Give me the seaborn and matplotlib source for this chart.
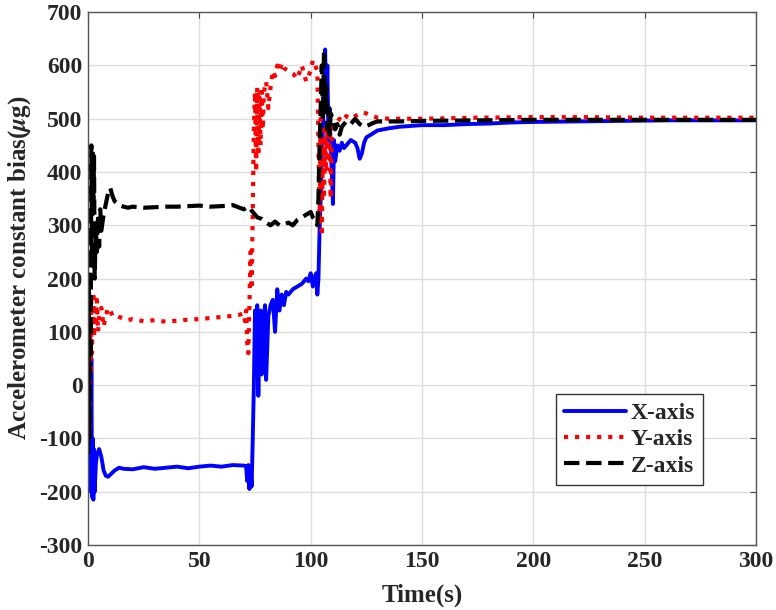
import numpy as np
import pandas as pd
import matplotlib
matplotlib.use('Agg')
import matplotlib.pyplot as plt
import seaborn as sns

# X-axis bias (blue)
bx_t = [
    0, 0.3, 0.6, 0.9, 1.2, 1.5, 1.8, 2.1, 2.4, 2.7,
    3.0, 3.5, 4, 5, 6, 7, 8, 9, 10, 12,
    14, 16, 20, 25, 30, 35, 40, 45, 50, 55,
    60, 65, 70, 71, 71.5, 72, 72.5, 73, 73.5, 74,
    74.5, 75, 75.5, 76, 76.5, 77, 77.5, 78, 78.5, 79,
    79.5, 80, 81, 82, 83, 84, 85, 86, 87, 88,
    89, 90, 92, 94, 96, 98, 99, 100, 101, 102,
    102.5, 103, 103.5, 104, 104.5, 105, 105.5, 106, 106.5, 107,
    107.5, 108, 108.5, 109, 109.5, 110, 110.5, 111, 112, 113,
    114, 115, 116, 118, 120, 121, 122, 123, 124, 125,
    127, 130, 135, 140, 150, 160, 170, 180, 190, 200,
    220, 240, 260, 280, 300]
bx_v = [
    0, 120, -50, 80, -200, 50, -210, -100, -215, -120,
    -200, -150, -130, -120, -135, -160, -170, -172, -168, -160,
    -155, -157, -158, -154, -157, -155, -153, -156, -153, -151,
    -153, -150, -151, -152, -180, -150, -195, -160, -190, -100,
    0, 140, 60, 150, -20, 100, 140, 20, 120, 130,
    150, 10, 130, 150, 160, 100, 180, 140, 170, 150,
    175, 170, 180, 185, 190, 200, 195, 210, 185, 205,
    210, 170, 200, 290, 350, 430, 480, 570, 630, 520,
    600, 460, 520, 440, 400, 340, 460, 420, 450, 440,
    455, 445, 450, 460, 455, 445, 425, 435, 455, 465,
    470, 478, 482, 485, 488, 488, 490, 491, 493, 494,
    495, 496, 497, 497, 497]

# Y-axis bias (red)
ry_t = [
    0, 0.3, 0.6, 0.9, 1.2, 1.5, 1.8, 2.1, 2.4, 2.7,
    3, 3.5, 4, 4.5, 5, 6, 7, 8, 9, 10,
    11, 12, 14, 16, 18, 20, 25, 30, 35, 40,
    45, 50, 55, 60, 65, 68, 70, 70.5, 71, 71.5,
    72, 72.5, 73, 73.5, 74, 74.5, 75, 75.5, 76, 76.5,
    77, 77.5, 78, 78.5, 79, 80, 81, 82, 83, 84,
    85, 86, 87, 88, 90, 92, 94, 96, 98, 100,
    101, 102, 103, 103.5, 104, 104.5, 105, 105.5, 106, 106.5,
    107, 107.5, 108, 108.5, 109, 109.5, 110, 111, 112, 113,
    114, 116, 118, 120, 123, 125, 128, 130, 135, 140,
    150, 175, 200, 225, 250, 275, 300]
ry_v = [
    -50, 60, -80, 100, 20, 170, 60, 140, 175, 90,
    150, 110, 160, 100, 130, 145, 110, 130, 145, 140,
    130, 132, 128, 125, 122, 124, 120, 122, 119, 121,
    123, 124, 126, 128, 130, 132, 135, 120, 140, 80,
    60, 150, 250, 180, 330, 480, 550, 400, 560, 430,
    540, 450, 560, 480, 550, 570, 520, 560, 590, 580,
    600, 590, 605, 595, 590, 585, 575, 600, 570, 590,
    610, 600, 590, 450, 300, 500, 280, 460, 350, 480,
    400, 470, 420, 490, 350, 470, 480, 490, 495, 500,
    495, 505, 500, 505, 512, 510, 505, 502, 500, 500,
    500, 502, 503, 503, 502, 502, 502]

# Z-axis bias (black)
bz_t = [
    0, 0.3, 0.6, 0.9, 1.2, 1.5, 1.8, 2.1, 2.4, 2.7,
    3, 3.5, 4, 4.5, 5, 5.5, 6, 7, 8, 9,
    10, 11, 12, 14, 16, 18, 20, 25, 30, 35,
    40, 45, 50, 55, 60, 65, 70, 72, 74, 76,
    78, 80, 82, 84, 86, 88, 90, 92, 94, 96,
    98, 100, 101, 102, 103, 103.5, 104, 104.5, 105, 105.5,
    106, 106.5, 107, 107.5, 108, 108.5, 109, 110, 111, 112,
    113, 114, 116, 118, 120, 122, 124, 126, 128, 130,
    140, 150, 175, 200, 225, 250, 275, 300]
bz_v = [
    -130, 200, -100, 300, 50, 450, 250, 440, 350, 430,
    200, 300, 250, 320, 260, 330, 290, 320, 340, 360,
    370, 355, 345, 338, 335, 333, 335, 333, 334, 335,
    335, 336, 337, 335, 336, 338, 330, 335, 325, 315,
    312, 305, 300, 307, 300, 302, 305, 300, 310, 315,
    320, 325, 315, 310, 300, 350, 450, 520, 600, 500,
    630, 520, 560, 480, 520, 470, 510, 500, 480, 490,
    470, 485, 495, 490, 500, 490, 485, 488, 492, 495,
    495, 496, 497, 498, 498, 498, 498, 498]

x_ticks = [0, 50, 100, 150, 200, 250, 300]
y_ticks = [-300, -200, -100, 0, 100, 200, 300, 400, 500, 600, 700]

sns.set_style('whitegrid')
plt.rcParams['font.family'] = ['Liberation Serif', 'DejaVu Serif']
plt.rcParams['font.weight'] = 'bold'
plt.rcParams['mathtext.fontset'] = 'stix'
plt.rcParams['axes.unicode_minus'] = False

fig = plt.figure(figsize=(7.76, 6.10), dpi=100)
ax = fig.add_axes([0.1134, 0.1066, 0.8608, 0.8734])

sns.lineplot(x=bx_t, y=bx_v, ax=ax, color='#0000ff', lw=2.8, linestyle='-',
             estimator=None, sort=False, label='X-axis')
sns.lineplot(x=ry_t, y=ry_v, ax=ax, color='#ff0000', lw=3.0, linestyle=':',
             estimator=None, sort=False, label='Y-axis')
sns.lineplot(x=bz_t, y=bz_v, ax=ax, color='black', lw=3.0, linestyle='--',
             estimator=None, sort=False, label='Z-axis')

ax.set_xlim(0, 300)
ax.set_ylim(-300, 700)
ax.set_xticks(x_ticks)
ax.set_yticks(y_ticks)
ax.tick_params(labelsize=17, direction='in', length=4, top=True, right=True,
               color='#444444', pad=4)
for lab in ax.get_xticklabels() + ax.get_yticklabels():
    lab.set_fontweight('bold')
ax.grid(True, color='#dddddd', lw=1.0)
for s in ax.spines.values():
    s.set_color('#555555')
    s.set_linewidth(1.0)

ax.set_xlabel('Time(s)', fontsize=18, fontweight='bold', labelpad=9)
ax.set_ylabel(r'Accelerometer constant bias($\mu$g)', fontsize=18, fontweight='bold')
ax.yaxis.set_label_coords(-0.083, 0.52)

leg = ax.legend(loc='lower right', bbox_to_anchor=(0.921, 0.113), fontsize=17,
                frameon=True, fancybox=False, framealpha=1, edgecolor='#333333',
                handlelength=2.6, borderpad=0.35, labelspacing=0.2, handletextpad=0.2,
                borderaxespad=0)
leg.get_frame().set_linewidth(1.0)
for t in leg.get_texts():
    t.set_fontweight('bold')

fig.savefig('out.png', dpi=100)
